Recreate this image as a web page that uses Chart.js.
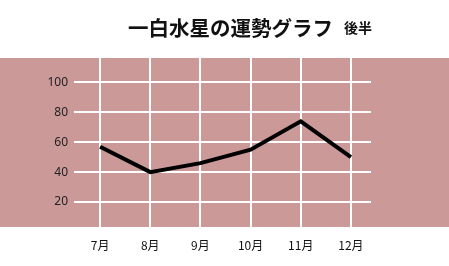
<!DOCTYPE html>
<html>
<head>
<meta charset="utf-8">
<script src="https://cdn.jsdelivr.net/npm/chart.js@4"></script>
<style>
    html, body { margin: 0; padding: 0; background: #fff; }
    #wrap { position: relative; width: 449px; height: 266px; }
    #title {
        position: absolute; left: 128px; top: 14px;
        font-family: "Noto Sans CJK JP", sans-serif; font-weight: bold;
        font-size: 20.5px; line-height: 26px; color: #111; white-space: nowrap;
    }
    #title span { font-size: 14px; margin-left: 11px; vertical-align: 3px; }
    canvas { position: absolute; left: 0; top: 0; }
</style>
</head>
<body>
<div id="wrap">
    <canvas id="lineChart" width="449" height="266"></canvas>
    <div id="title">一白水星の運勢グラフ<span>後半</span></div>
</div>
<script>
const months = ['7月', '8月', '9月', '10月', '11月', '12月'];
const fortune = [57, 40, 46, 55, 74, 50];
const yTicks = [20, 40, 60, 80, 100];

const ctx = document.getElementById('lineChart').getContext('2d');

new Chart(ctx, {
    type: 'line',
    data: {
        datasets: [{
            data: fortune.map((v, i) => ({ x: i, y: v })),
            borderColor: '#000',
            borderWidth: 4,
            pointRadius: 0,
            tension: 0,
            borderJoinStyle: 'miter'
        }]
    },
    options: {
        responsive: false,
        animation: false,
        layout: { padding: { top: 58, right: 78, left: 0, bottom: 0 } },
        plugins: {
            legend: { display: false },
            tooltip: { enabled: false }
        },
        scales: {
            x: {
                type: 'linear',
                min: -0.52,
                max: 5.4,
                grid: { color: '#fff', lineWidth: 2, drawTicks: false },
                border: { display: false },
                ticks: {
                    color: '#111', padding: 11,
                    font: { family: '"Noto Sans CJK JP", sans-serif', size: 12 },
                    callback: (v) => months[v]
                },
                afterBuildTicks: (scale) => {
                    scale.ticks = months.map((m, i) => ({ value: i }));
                },
                afterFit: (scale) => { scale.height = 39; }
            },
            y: {
                min: 3.3,
                max: 116.3,
                grid: { color: '#fff', lineWidth: 2, drawTicks: false },
                border: { display: false },
                ticks: {
                    color: '#222', padding: 6,
                    font: { family: '"Noto Sans", sans-serif', size: 12 }
                },
                afterBuildTicks: (scale) => {
                    scale.ticks = yTicks.map(v => ({ value: v }));
                },
                afterFit: (scale) => { scale.width = 74; }
            }
        }
    },
    plugins: [{
        id: 'band',
        beforeDraw: (chart) => {
            const c = chart.ctx;
            const a = chart.chartArea;
            c.save();
            c.fillStyle = '#cc9999';
            c.fillRect(0, a.top, chart.width, a.bottom - a.top);
            c.restore();
        }
    }]
});
</script>
</body>
</html>
